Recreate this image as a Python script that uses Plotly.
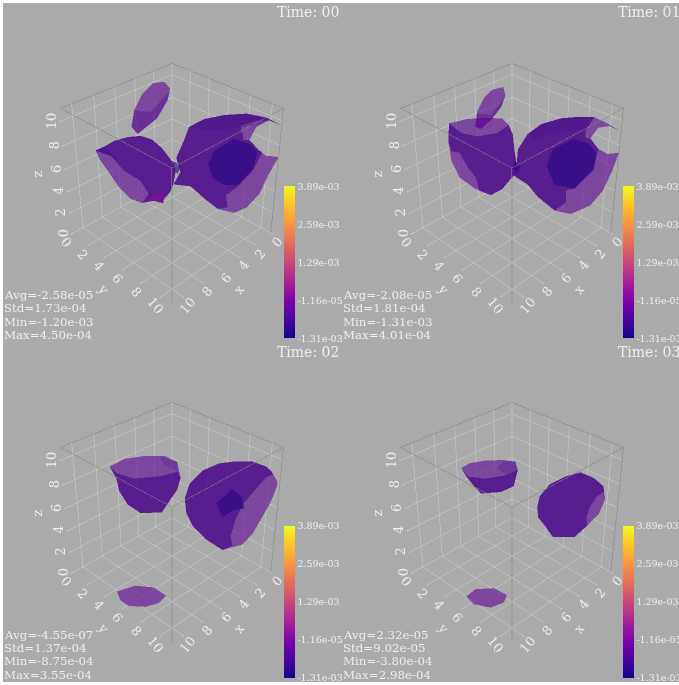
import plotly.graph_objects as go

# ---------- labels and scale ----------
times = ["Time: 00", "Time: 01", "Time: 02", "Time: 03"]
stat_avg = ["-2.58e-05", "-2.08e-05", "-4.55e-07", "2.32e-05"]
stat_std = ["1.73e-04", "1.81e-04", "1.37e-04", "9.02e-05"]
stat_min = ["-1.20e-03", "-1.31e-03", "-8.75e-04", "-3.80e-04"]
stat_max = ["4.50e-04", "4.01e-04", "3.55e-04", "2.98e-04"]
scale_vals = [-1.31e-3, -1.16e-5, 1.29e-3, 2.59e-3, 3.89e-3]
scale_text = ["-1.31e-03", "-1.16e-05", "1.29e-03", "2.59e-03", "3.89e-03"]
axis_ticks = [0, 2, 4, 6, 8, 10]
AXIS_MAX = 11

# iso-levels of the shells
V_SHELL = -2.8e-4
V_MAIN = -6.5e-4
V_CORE = -1.05e-3
V_HOT = 3.0e-4

# ---------- shell outlines: (y-x, z) on a sheet x+y+z=K, in tenths of the box ----------
t0_back = [(-1.86,9.8),(-.76,9.88),(-.19,9.51),(-.44,8.83),(-1.45,7.82),(-3.34,6.94),(-3.91,7.36),(-3.66,8.28),(-2.87,9.2)]
t0_back_low = [(-3.66,8.28),(-2.08,8.19),(-.19,9.38),(-.44,8.83),(-1.45,7.82),(-3.34,6.94),(-3.91,7.36)]
t0_left = [(-7.29,6.32),(-6.42,6.55),(-5.48,6.86),(-4.24,7.06),(-2.99,7.13),(-1.9,6.92),(-.97,6.46),(-.19,5.88),(.12,5.65),(.37,5.2),(.12,4.47),(-.19,4.02),(-.75,3.66),(-.87,3.42),(-1.74,3.56),(-2.83,3.44),(-3.93,3.66),(-5.02,4.29),(-6.11,5.2),(-6.88,5.83)]
t0_left_main = [(-7.29,6.32),(-6.42,6.55),(-5.48,6.86),(-4.24,7.06),(-2.99,7.13),(-1.9,6.92),(-.97,6.46),(-.19,5.88),(.12,5.65),(.37,5.2),(.12,4.47),(-.19,4.02),(-.75,3.66),(-.87,3.42),(-1.74,3.56),(-2.83,3.44),(-2.21,3.93),(-2.99,4.65),(-4.55,5.2),(-5.79,6.01)]
t0_left_rim = [(-7.29,6.32),(-6.42,6.5),(-4.86,5.7),(-5.79,6.01)]
t0_left_hot = [(-2.68,3.47),(-1.74,3.84),(-.81,4.07),(-.81,3.42),(-1.74,3.56)]
neck = [(.16,5.74),(.84,5.47),(.53,5.01),(.09,5.38)]

# (y, z) on the far wall
t0_right = [(.44,1.9),(1.2,3.7),(1.69,5.04),(3.14,6.28),(4.96,7.37),(6.95,8.32),(8.58,8.73),(9.9,8.75),(8.86,8.64),(7.85,7.7),(7.33,6.48),(8.28,6.1),(8.86,5.96),(9.98,6.37),(9.28,4.7),(8.61,2.74),(7.56,1.05),(6.38,-.06),(4.76,-.51),(3.38,-.27),(1.96,.13),(.15,-.57),(.88,.87)]
t0_right_main = [(.44,1.9),(1.2,3.7),(1.69,5.04),(3.14,6.28),(4.96,7.37),(6.95,8.32),(8.58,8.73),(9.9,8.75),(8.86,8.64),(8.6,8.49),(7.81,8.19),(6.5,7.2),(6.83,6.27),(7.33,6.48),(8.28,6.1),(8.56,6.08),(7.87,4.33),(6.53,2.3),(5.5,1.08),(5.72,.12),(4.76,-.51),(3.38,-.27),(1.96,.13),(.15,-.57),(.88,.87)]
t0_right_band = [(1.69,5.04),(3.14,6.28),(4.96,7.37),(6.95,8.32),(8.58,8.73),(9.9,8.75),(8.86,8.64),(7.84,7.83),(6.47,7.05),(4.43,5.98),(2.85,5.36)]
t0_right_core = [(5.96,5.98),(7.42,6.21),(8.11,5.89),(7.86,4.46),(6.52,2.45),(5.28,1.86),(4.14,1.92),(3.66,2.87),(4.19,4.23)]

t1_back = [(-1.89,9.44),(-.85,9.58),(-.63,9.11),(-1.04,8.46),(-1.89,7.82),(-3,7.23),(-3.56,7.36),(-3.38,8.19),(-2.68,9.01)]
t1_back_low = [(-3.38,8.1),(-2.05,8),(-.73,9.01),(-1.04,8.46),(-1.89,7.82),(-3,7.23),(-3.56,7.36)]
t1_left = [(-6.01,7.82),(-4.52,8.04),(-2.65,8.13),(-.93,8.09),(-.31,7.73),(.09,7.19),(.22,6.37),(.4,5.74),(.53,5.2),(0,4.83),(-.93,4.2),(-2.02,3.87),(-3.58,4.25),(-4.98,4.83),(-5.76,5.74),(-6.07,6.83)]
t1_left_main = [(-6.01,7.82),(-4.83,7.28),(-3.27,7.1),(-1.4,7.28),(-.53,7.64),(-.31,7.73),(.09,7.19),(.22,6.37),(.4,5.74),(.53,5.2),(0,4.83),(-.93,4.2),(-2.02,3.87),(-3.12,4.11),(-3.43,4.83),(-4.2,5.38),(-4.98,6.19),(-5.76,6.28),(-6.07,6.83)]
t1_right = [(.61,2.72),(1.57,4.41),(2.86,5.77),(4.7,7.01),(6.16,7.74),(7.54,8.33),(8.64,8.37),(9.86,8.3),(8.93,8.25),(8.02,7.73),(7.41,6.65),(8.17,6.18),(9.01,6.16),(9.96,6.68),(9.55,5.08),(8.9,3.15),(7.86,1.36),(6.1,-.29),(4.47,-.82),(2.72,-.45),(1.64,.14),(.19,.24),(.47,1.3)]
t1_right_main = [(.61,2.72),(1.57,4.41),(2.86,5.77),(4.7,7.01),(6.16,7.74),(7.54,8.33),(7.56,8.22),(6.95,7.1),(6.99,6.48),(7.41,6.65),(8.17,6.18),(8.15,6.05),(7.91,4.34),(6.27,2.03),(5.5,1.52),(5.56,.5),(4.47,-.82),(2.72,-.45),(1.64,.14),(.19,.24),(.47,1.3)]
t1_right_band = [(1.57,4.41),(2.86,5.77),(4.7,7.01),(6.16,7.74),(7.54,8.33),(7.08,7.15),(4.46,5.86),(2.25,4.27)]
t1_right_core = [(6,6),(7.31,6.17),(8.06,5.75),(7.89,4.48),(6.27,2.03),(4.36,1.42),(3.47,2.64),(4.06,4.32)]

t2_left = [(-5.95,7.59),(-4.55,8.01),(-2.68,8.17),(-.65,8.17),(.5,7.83),(.81,6.96),(.5,6.32),(-.34,5.6),(-.97,5.06),(-2.99,5.02),(-4.24,5.51),(-5.02,6.23),(-5.33,6.96)]
t2_left_main = [(-5.95,7.59),(-5.33,7.23),(-3.61,6.92),(-1.12,7.05),(.59,7.32),(.81,6.96),(.5,6.32),(-.34,5.6),(-.97,5.06),(-2.99,5.02),(-4.24,5.51),(-5.02,6.23),(-5.33,6.96)]
t2_left_rim = [(-1.12,8.13),(.5,7.83),(.59,7.32),(-.81,7.68)]
t2_right = [(1.18,6.48),(1.63,7.28),(2.84,7.98),(4.36,8.36),(5.87,8.47),(7.53,8.45),(8.74,8.19),(9.5,7.8),(9.8,7.27),(9.35,6.57),(8.59,5.69),(7.53,4.64),(6.47,4.02),(4.66,3.73),(3.15,4.29),(1.94,4.99),(1.33,5.69)]
t2_right_main = [(1.18,6.48),(1.63,7.28),(2.84,7.98),(4.36,8.36),(5.87,8.47),(7.53,8.45),(8.74,8.19),(9.5,7.8),(8.74,7.63),(7.68,6.92),(6.62,6.22),(5.87,5.34),(5.41,4.46),(5.57,3.97),(4.66,3.73),(3.15,4.29),(1.94,4.99),(1.33,5.69)]
t2_right_core = [(5.57,7),(6.41,6.57),(6.72,5.96),(5.57,5.83),(4.66,5.48),(4.11,6.22),(4.96,6.66)]
t2_floor = [(-5.17,.92),(-3.46,1.23),(-1.74,1.14),(-.56,.69),(-1.28,.29),(-2.52,.09),(-4.08,.14),(-4.86,.45)]

t3_left = [(-4.83,7.5),(-4.05,7.77),(-2.65,7.91),(-.93,7.95),(.31,7.86),(.56,7.41),(.16,6.5),(-1.09,6.18),(-2.96,6.1),(-3.74,6.59),(-4.36,7.04)]
t3_left_main = [(-4.83,7.5),(-4.2,7.04),(-2.65,6.92),(-.78,7.08),(.56,7.41),(.16,6.5),(-1.09,6.18),(-2.96,6.1),(-3.74,6.59),(-4.36,7.04)]
t3_left_rim = [(-.78,7.95),(.31,7.86),(.56,7.41),(-.62,7.14),(-1.4,7.5)]
t3_right = [(2.37,5.64),(2.61,6.26),(3.53,6.89),(5.07,7.34),(6.45,7.55),(7.68,7.25),(8.6,6.8),(8.76,6.09),(8.14,5.28),(7.07,4.66),(5.84,4.03),(3.84,4.03),(3.07,4.66),(2.46,5.1)]
t3_right_main = [(2.37,5.64),(2.61,6.26),(3.53,6.89),(5.07,7.34),(6.45,7.55),(7.68,7.25),(8.6,6.8),(8.66,6.5),(7.99,6.26),(7.28,5.64),(6.97,5.05),(7.07,4.66),(5.84,4.03),(3.84,4.03),(3.07,4.66),(2.46,5.1)]
t3_floor = [(-4.3,.65),(-3.43,1.04),(-1.71,1.1),(-.47,.72),(-.78,.32),(-2.02,.05),(-3.58,.23)]

# box edges drawn in grey
frame_x = [.02, 10.98, 10.98, .02, .02, None, 10.98, 10.98, None, .02, .02]
frame_y = [.02, .02, 10.98, 10.98, .02, None, 10.98, 10.98, None, 10.98, 10.98]
frame_z = [10.98, 10.98, 10.98, 10.98, 10.98, None, 10.98, 0, None, 10.98, 0]

# panel, outline, sheet K (None = far wall), value, opacity
shells = [
    (0, t0_back, 14, V_SHELL, .6), (0, t0_back_low, 14, V_MAIN, .3),
    (0, t0_left, 15, V_SHELL, .6), (0, t0_left_main, 15, V_MAIN, .6), (0, t0_left_rim, 15, V_CORE, .25),
    (0, t0_left_hot, 15, V_HOT, .7), (0, neck, 15, V_CORE, .6),
    (0, t0_right, None, V_SHELL, .6), (0, t0_right_main, None, V_MAIN, .6),
    (0, t0_right_band, None, V_MAIN, .25), (0, t0_right_core, None, V_CORE, .6),
    (1, t1_back, 14, V_SHELL, .6), (1, t1_back_low, 14, V_MAIN, .3),
    (1, t1_left, 15, V_SHELL, .6), (1, t1_left_main, 15, V_MAIN, .6), (1, neck, 15, V_CORE, .6),
    (1, t1_right, None, V_SHELL, .6), (1, t1_right_main, None, V_MAIN, .6),
    (1, t1_right_band, None, V_MAIN, .25), (1, t1_right_core, None, V_CORE, .6),
    (2, t2_left, 15, V_SHELL, .6), (2, t2_left_main, 15, V_MAIN, .6), (2, t2_left_rim, 15, V_CORE, .2),
    (2, t2_right, 17.15, V_SHELL, .6), (2, t2_right_main, 17.15, V_MAIN, .6), (2, t2_right_core, 17.15, V_CORE, .6),
    (2, t2_floor, 15.5, V_SHELL, .6),
    (3, t3_left, 15, V_SHELL, .6), (3, t3_left_main, 15, V_MAIN, .6), (3, t3_left_rim, 15, V_CORE, .2),
    (3, t3_right, 16, V_SHELL, .6), (3, t3_right_main, 16, V_MAIN, .6),
    (3, t3_floor, 15.5, V_SHELL, .6),
]

# page geometry: each scene is 550 px square, centred on its panel
FIG_W, FIG_H, SCENE = 890, 889, 550
OFF_X, OFF_Y = 103, 102


def px(x):
    return (x + OFF_X) / FIG_W


def py(y):
    return 1 - (y + OFF_Y) / FIG_H


def ear_clip(poly):
    pts = list(poly)
    area = sum(pts[n][0] * pts[(n + 1) % len(pts)][1] - pts[(n + 1) % len(pts)][0] * pts[n][1] for n in range(len(pts)))
    order = list(range(len(pts)))
    if area < 0:
        order.reverse()

    def cross(a, b, c):
        return (b[0] - a[0]) * (c[1] - a[1]) - (b[1] - a[1]) * (c[0] - a[0])

    tris = []
    guard = 0
    while len(order) > 3 and guard < 5000:
        guard += 1
        for n in range(len(order)):
            a, b, c = order[n - 1], order[n], order[(n + 1) % len(order)]
            if cross(pts[a], pts[b], pts[c]) <= 0:
                continue
            if any(cross(pts[a], pts[b], pts[m]) >= 0 and cross(pts[b], pts[c], pts[m]) >= 0 and cross(pts[c], pts[a], pts[m]) >= 0
                   for m in order if m not in (a, b, c)):
                continue
            tris.append((a, b, c))
            order.pop(n)
            break
        else:
            break
    if len(order) == 3:
        tris.append(tuple(order))
    return tris


def place(poly, K):
    f = AXIS_MAX / 10
    xs, ys, zs = [], [], []
    for p, q in poly:
        if K is None:
            d = 0.2 * (10 - p)
            xs.append(f * d); ys.append(f * (p + d)); zs.append(f * (q + d))
        else:
            xs.append(f * (K - q - p) / 2); ys.append(f * (K - q + p) / 2); zs.append(f * q)
    return xs, ys, zs


def scene_name(panel):
    return "scene" if panel == 0 else f"scene{panel + 1}"


fig = go.Figure()
seen = set()
for n, (panel, poly, K, val, alpha) in enumerate(shells):
    xs, ys, zs = place(poly, K)
    tris = ear_clip(poly)
    first = panel not in seen
    seen.add(panel)
    cb_x = [284, 623.3, 284, 623.3][panel]
    cb_bottom = [338.3, 338.3, 677.7, 677.7][panel]
    fig.add_trace(go.Mesh3d(
        x=xs, y=ys, z=zs,
        i=[t[0] for t in tris], j=[t[1] for t in tris], k=[t[2] for t in tris],
        intensity=[val] * len(xs), cmin=scale_vals[0], cmax=scale_vals[-1], colorscale="Plasma",
        opacity=alpha, flatshading=True,
        lighting=dict(ambient=.82 if val == V_MAIN else .9, diffuse=0, specular=0, roughness=1, fresnel=0),
        scene=scene_name(panel),
        showscale=first,
        colorbar=dict(x=px(cb_x), xanchor="left", y=py(cb_bottom), yanchor="bottom",
                      len=152, lenmode="pixels", thickness=11, thicknessmode="pixels", xpad=0, ypad=0,
                      outlinewidth=0, ticks="", tickvals=scale_vals, ticktext=scale_text,
                      tickfont=dict(family="DejaVu Serif", size=9.5, color="#eeeeee")),
    ))
for panel in range(4):
    fig.add_trace(go.Scatter3d(x=frame_x, y=frame_y, z=frame_z, mode="lines", scene=scene_name(panel),
                               line=dict(color="#808080", width=1), hoverinfo="skip", showlegend=False))


def ax():
    return dict(range=[0, AXIS_MAX], tickvals=axis_ticks, showbackground=False, gridcolor="#d4d4d4", gridwidth=1,
                showline=False, zeroline=False, ticks="outside", ticklen=2, tickcolor="#eeeeee",
                showticklabels=False, title=dict(text=""))


LABEL_FONT = dict(family="DejaVu Serif", size=13, color="#eeeeee")


def label(x, y, z, text, angle, dx, dy):
    return dict(x=x, y=y, z=z, text=text, textangle=angle, xshift=dx, yshift=dy, showarrow=False,
                xanchor="center", yanchor="middle", font=LABEL_FONT)


axis_labels = []
for t in axis_ticks:
    axis_labels.append(label(t, AXIS_MAX, 0, str(t), -50, 5.5, -9))
    axis_labels.append(label(AXIS_MAX, t, 0, str(t), 50, -6.5, -9.5))
    axis_labels.append(label(AXIS_MAX, 0, t, str(t), -90, -10, 0))
axis_labels.append(label(5, AXIS_MAX, 0, "x", -50, 9.5, -26.5))
axis_labels.append(label(AXIS_MAX, 5, 0, "y", 50, -11, -26.5))
axis_labels.append(label(AXIS_MAX, 0, 5, "z", -90, -30, 6))

camera = dict(eye=dict(x=2.65, y=2.65, z=2.43), center=dict(x=0, y=0, z=0.012), up=dict(x=0, y=0, z=1))


def scene(dx, dy):
    return dict(domain=dict(x=dx, y=dy), camera=camera, aspectmode="cube", bgcolor="rgba(0,0,0,0)",
                xaxis=ax(), yaxis=ax(), zaxis=ax(), annotations=axis_labels)


annots = []
title_x = [341, 681.5, 341, 681.5]
title_y = [12, 12, 352, 352]
stat_x = [2, 341.3, 2, 341.3]
stat_y = [295, 295, 634.5, 634.5]
for p in range(4):
    annots.append(dict(text=times[p], xref="paper", yref="paper", x=px(title_x[p]), y=py(title_y[p]),
                       xanchor="right", yanchor="middle", showarrow=False,
                       font=dict(family="DejaVu Serif", size=14, color="#eeeeee")))
    lines = [f"Avg={stat_avg[p]}", f"Std={stat_std[p]}", f"Min={stat_min[p]}", f"Max={stat_max[p]}"]
    for m, line in enumerate(lines):
        annots.append(dict(text=line, xref="paper", yref="paper", x=px(stat_x[p]),
                           y=py(stat_y[p] + 13.4 * m), xanchor="left", yanchor="middle", showarrow=False,
                           font=dict(family="DejaVu Serif", size=11.8, color="#eeeeee")))

wide = SCENE / FIG_W
tall = SCENE / FIG_H
fig.update_layout(
    width=FIG_W, height=FIG_H, margin=dict(l=0, r=0, t=0, b=0), autosize=False,
    paper_bgcolor="#aaaaaa", showlegend=False, annotations=annots,
    scene=scene([0, wide], [1 - tall, 1]), scene2=scene([1 - wide, 1], [1 - tall, 1]),
    scene3=scene([0, wide], [0, tall]), scene4=scene([1 - wide, 1], [0, tall]),
)
page = (
    "document.documentElement.style.overflow='hidden';"
    "document.body.style.overflow='hidden';"
    f"document.body.style.margin='{-OFF_Y}px 0 0 {-OFF_X}px';"
    "var g=document.querySelector('.plotly-graph-div');"
    f"g.style.clipPath='inset({OFF_Y + 3}px 0px {FIG_H - OFF_Y - 682}px {OFF_X + 3}px)';"
)
fig.write_html("out.html", post_script=page)
